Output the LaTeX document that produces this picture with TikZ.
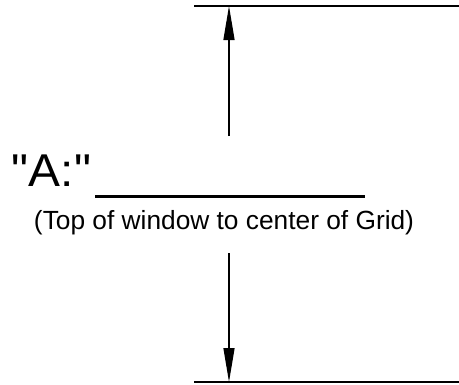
\documentclass[tikz,border=0pt]{standalone}
\usepackage{fontspec}
\newfontfamily\cadfont{Liberation Sans}
\usetikzlibrary{arrows.meta}
\begin{document}
\begin{tikzpicture}[x=1pt,y=-1pt,
  dimline/.style={line width=1.4pt},
  dimarrow/.style={line width=1.4pt,-{Triangle[length=34pt,width=11pt]}},
  lbl/.style={anchor=base west,inner sep=0pt,outer sep=0pt}]
\useasboundingbox (0,0) rectangle (459,384);
\coordinate (tl) at (194,6);
\coordinate (tr) at (459,6);
\coordinate (bl) at (194,382);
\coordinate (br) at (459,382);
\coordinate (topstart) at (229,136);
\coordinate (toptip) at (229,6);
\coordinate (botstart) at (229,253);
\coordinate (bottip) at (229,382);
\coordinate (ul) at (95,196);
\coordinate (ur) at (365,196);
\draw[dimline] (tl) -- (tr);
\draw[dimline] (bl) -- (br);
\draw[dimarrow] (topstart) -- (toptip);
\draw[dimarrow] (botstart) -- (bottip);
\draw[line width=3pt] (ul) -- (ur);
\node[lbl,xscale=1.04,font=\cadfont\fontsize{46}{50}\selectfont] (alabel) at (12,186) {"A:"};
\node[lbl,font=\cadfont\fontsize{26.3}{30}\selectfont] (note) at (34,229) {(Top of window to center of Grid)};
\end{tikzpicture}
\end{document}
